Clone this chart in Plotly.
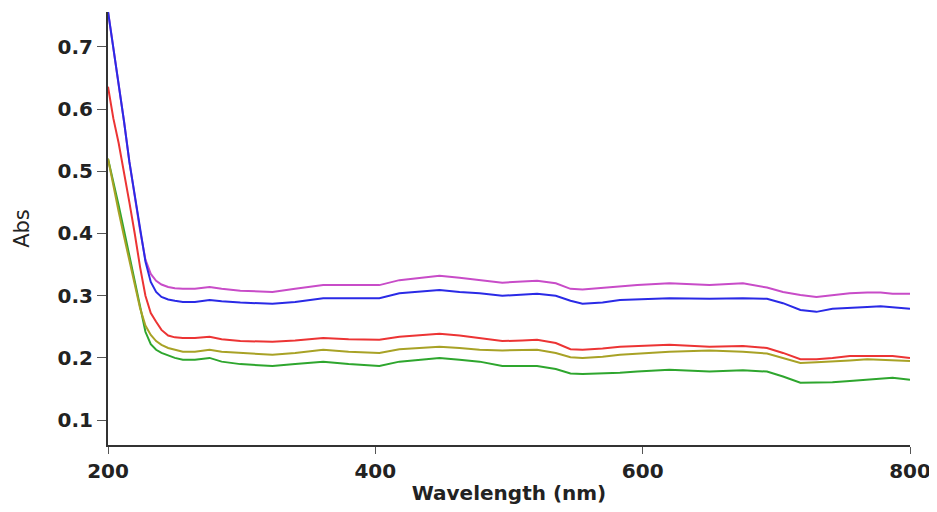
import plotly.graph_objects as go

wavelength = [200, 204, 208, 212, 216, 220, 224, 228, 232, 236,
              240, 245, 250, 256, 265, 276, 285, 299, 323, 340,
              361, 380, 403, 418, 433, 448, 463, 478, 495, 510,
              521, 535, 546, 555, 570, 583, 596, 620, 650, 675,
              693, 705, 718, 730, 742, 755, 768, 778, 787, 800]

abs_magenta = [0.757, 0.700, 0.640, 0.580, 0.515, 0.460, 0.405, 0.358, 0.335, 0.324,
               0.318, 0.314, 0.312, 0.311, 0.311, 0.314, 0.311, 0.308, 0.306, 0.311,
               0.317, 0.317, 0.317, 0.325, 0.329, 0.332, 0.329, 0.325, 0.321, 0.323,
               0.324, 0.320, 0.311, 0.310, 0.313, 0.315, 0.317, 0.320, 0.317, 0.320,
               0.313, 0.306, 0.301, 0.298, 0.301, 0.304, 0.305, 0.305, 0.303, 0.303]

abs_blue = [0.757, 0.700, 0.640, 0.580, 0.515, 0.460, 0.405, 0.355, 0.322, 0.306,
            0.298, 0.294, 0.292, 0.290, 0.290, 0.293, 0.291, 0.289, 0.287, 0.290,
            0.296, 0.296, 0.296, 0.304, 0.307, 0.309, 0.306, 0.304, 0.300, 0.302,
            0.303, 0.300, 0.292, 0.287, 0.289, 0.293, 0.294, 0.296, 0.295, 0.296,
            0.295, 0.288, 0.277, 0.274, 0.279, 0.281, 0.282, 0.283, 0.281, 0.279]

abs_red = [0.636, 0.585, 0.545, 0.500, 0.450, 0.400, 0.346, 0.300, 0.272, 0.258,
           0.245, 0.236, 0.233, 0.232, 0.232, 0.234, 0.230, 0.227, 0.226, 0.228,
           0.232, 0.230, 0.229, 0.234, 0.237, 0.239, 0.236, 0.232, 0.227, 0.228,
           0.229, 0.224, 0.214, 0.213, 0.215, 0.218, 0.219, 0.221, 0.218, 0.219,
           0.216, 0.208, 0.198, 0.198, 0.200, 0.203, 0.203, 0.203, 0.203, 0.200]

abs_olive = [0.520, 0.475, 0.435, 0.395, 0.355, 0.315, 0.280, 0.252, 0.237, 0.227,
             0.221, 0.216, 0.213, 0.210, 0.210, 0.213, 0.210, 0.208, 0.205, 0.208,
             0.213, 0.210, 0.208, 0.214, 0.216, 0.218, 0.216, 0.213, 0.212, 0.212,
             0.213, 0.208, 0.201, 0.200, 0.202, 0.205, 0.207, 0.210, 0.212, 0.210,
             0.207, 0.200, 0.192, 0.193, 0.195, 0.196, 0.198, 0.197, 0.196, 0.195]

abs_green = [0.520, 0.485, 0.445, 0.405, 0.365, 0.325, 0.280, 0.242, 0.222, 0.213,
             0.208, 0.204, 0.200, 0.197, 0.197, 0.200, 0.194, 0.190, 0.187, 0.190,
             0.194, 0.190, 0.187, 0.194, 0.197, 0.200, 0.197, 0.194, 0.187, 0.187,
             0.187, 0.182, 0.175, 0.174, 0.175, 0.176, 0.178, 0.181, 0.178, 0.180,
             0.178, 0.170, 0.160, 0.160, 0.161, 0.163, 0.165, 0.167, 0.168, 0.165]

x_ticks = [200, 400, 600, 800]
y_ticks = [0.1, 0.2, 0.3, 0.4, 0.5, 0.6, 0.7]

series = [
    ("magenta", abs_magenta, "#c84cc8"),
    ("green", abs_green, "#2ea62e"),
    ("olive", abs_olive, "#a8a226"),
    ("red", abs_red, "#ec3434"),
    ("blue", abs_blue, "#2a2ae6"),
]

fig = go.Figure()
for name, vals, col in series:
    fig.add_trace(go.Scatter(x=wavelength, y=vals, mode="lines", name=name,
                             line=dict(color=col, width=2)))

tickfont = dict(family="DejaVu Sans", size=20, color="#222222")
fig.update_layout(
    width=929, height=504,
    margin=dict(l=100, r=27, t=4, b=67),
    paper_bgcolor="white", plot_bgcolor="white",
    showlegend=False,
    xaxis=dict(range=[200, 800], tickvals=x_ticks, ticktext=[f"<b>{v}</b>" for v in x_ticks],
               showline=True, linecolor="#333333", linewidth=2, ticks="outside",
               ticklen=7, tickcolor="#555555", tickwidth=1, showgrid=False, zeroline=False,
               tickfont=tickfont, automargin=False,
               title=dict(text="<b>Wavelength (nm)</b>", font=dict(family="DejaVu Sans", size=20, color="#222222"),
                          standoff=4)),
    yaxis=dict(range=[0.06, 0.756], tickvals=y_ticks, ticktext=[f"<b>{v}</b>" for v in y_ticks],
               showline=True, linecolor="#333333", linewidth=2, ticks="outside",
               ticklen=9, tickcolor="#555555", tickwidth=1, showgrid=False, zeroline=False,
               tickfont=tickfont, automargin=False,
               title=dict(text="Abs", font=dict(family="DejaVu Sans", size=21, color="#222222"),
                          standoff=22)),
)
fig.write_html("out.html")
